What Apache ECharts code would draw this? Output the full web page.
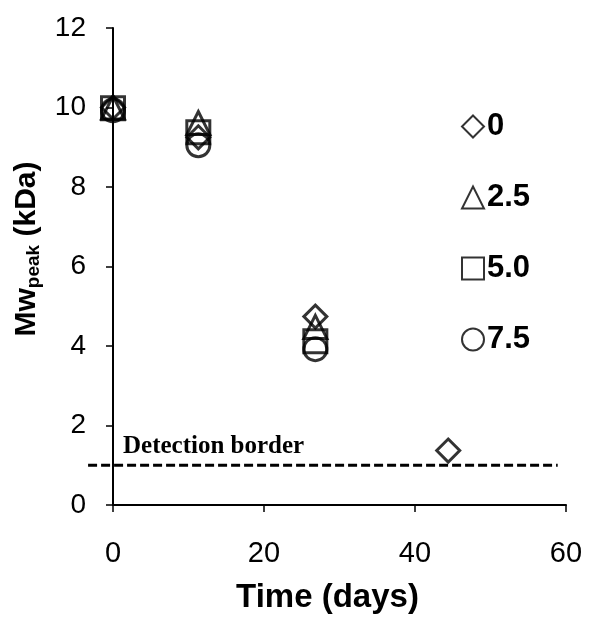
<!DOCTYPE html>
<html>
<head>
<meta charset="utf-8">
<script src="https://cdn.jsdelivr.net/npm/echarts@6/dist/echarts.min.js"></script>
<style>
  html, body { margin: 0; padding: 0; background: #fff; }
  #chart { width: 598px; height: 619px; }
</style>
</head>
<body>
<div id="chart"></div>
<script>
// Sampling days
const days = [0, 11.3, 26.8, 44.4];

// Peak molecular weight (kDa) per condition
const seriesNames = ['0', '2.5', '5.0', '7.5'];
const mw0  = [10.0, 9.25, 4.74, 1.37];
const mw25 = [10.0, 9.61, 4.48];
const mw50 = [9.98, 9.38, 4.12];
const mw75 = [9.93, 9.05, 3.92];
const symbols = ['diamond', 'triangle', 'rect', 'circle'];

// Detection limit (kDa) and the span of days its dashed line covers
const detectionLimit = 1.0;
const detectionSpan = [-3.3, 58.9];

const xTicks = [0, 20, 40, 60];
const yTicks = [0, 2, 4, 6, 8, 10, 12];

const chart = echarts.init(document.getElementById('chart'), null, { renderer: 'canvas' });

const values = [mw0, mw25, mw50, mw75];
const pointSeries = values.map((vals, i) => ({
  name: seriesNames[i],
  type: 'scatter',
  symbol: symbols[i],
  symbolSize: 23,
  data: vals.map((v, k) => [days[k], v]),
  itemStyle: { color: 'rgba(255,255,255,0)', borderColor: '#000', borderWidth: 3 },
  emphasis: { disabled: true },
  z: 3
}));

const option = {
  animation: false,
  backgroundColor: '#fff',
  grid: { left: 113, right: 32, top: 28, bottom: 112, containLabel: false },
  legend: {
    orient: 'vertical',
    left: 461,
    top: 111,
    padding: 0,
    itemWidth: 22,
    itemHeight: 22,
    itemGap: 40,
    selectedMode: false,
    data: seriesNames,
    textStyle: { fontFamily: 'Liberation Sans', fontWeight: 'bold', fontSize: 31, color: '#000', padding: [0, 0, 0, -2] }
  },
  xAxis: {
    type: 'value',
    min: xTicks[0],
    max: xTicks[xTicks.length - 1],
    interval: 20,
    name: 'Time (days)',
    nameLocation: 'middle',
    nameGap: 76,
    nameMoveOverlap: false,
    nameTextStyle: { fontFamily: 'Liberation Sans', fontWeight: 'bold', fontSize: 33, color: '#000', padding: [0, 24, 0, 0] },
    axisLine: { onZero: false, lineStyle: { color: '#000', width: 2 } },
    axisTick: { show: true, inside: false, length: 7, lineStyle: { color: '#000', width: 1.5 } },
    axisLabel: { margin: 34, fontFamily: 'Liberation Sans', fontSize: 29, color: '#000' },
    splitLine: { show: false }
  },
  yAxis: {
    type: 'value',
    min: yTicks[0],
    max: yTicks[yTicks.length - 1],
    interval: 2,
    axisLine: { onZero: false, lineStyle: { color: '#000', width: 2 } },
    axisTick: { show: true, inside: false, length: 7, lineStyle: { color: '#000', width: 1.5 } },
    axisLabel: { margin: 27, fontFamily: 'Liberation Sans', fontSize: 28, color: '#000' },
    splitLine: { show: false }
  },
  graphic: [
    {
      id: 'yTitle',
      type: 'text',
      x: 27,
      y: 249,
      rotation: Math.PI / 2,
      style: {
        text: '{a|Mw}{s|peak}{a| (kDa)}',
        align: 'center',
        verticalAlign: 'middle',
        fill: '#000',
        rich: {
          a: { fontFamily: 'Liberation Sans', fontWeight: 'bold', fontSize: 30, lineHeight: 34 },
          s: { fontFamily: 'Liberation Sans', fontWeight: 'bold', fontSize: 19, lineHeight: 34, padding: [14, 0, 0, 0] }
        }
      }
    },
    {
      id: 'detectionLabel',
      type: 'text',
      x: 123,
      y: 447,
      style: {
        text: 'Detection border',
        fill: '#000',
        font: 'bold 25px "Liberation Serif"',
        align: 'left',
        verticalAlign: 'middle'
      }
    }
  ],
  series: pointSeries
};

chart.setOption(option);

// Dashed detection-limit line, placed through the grid's own coordinate system
const p0 = chart.convertToPixel({ gridIndex: 0 }, [detectionSpan[0], detectionLimit]);
const p1 = chart.convertToPixel({ gridIndex: 0 }, [detectionSpan[1], detectionLimit]);
chart.setOption({
  graphic: [
    {
      id: 'detectionLine',
      type: 'line',
      z: 2,
      shape: { x1: p0[0], y1: p0[1], x2: p1[0], y2: p1[1] },
      style: { stroke: '#000', lineWidth: 3, lineDash: [9, 4] }
    }
  ]
});
</script>
</body>
</html>
